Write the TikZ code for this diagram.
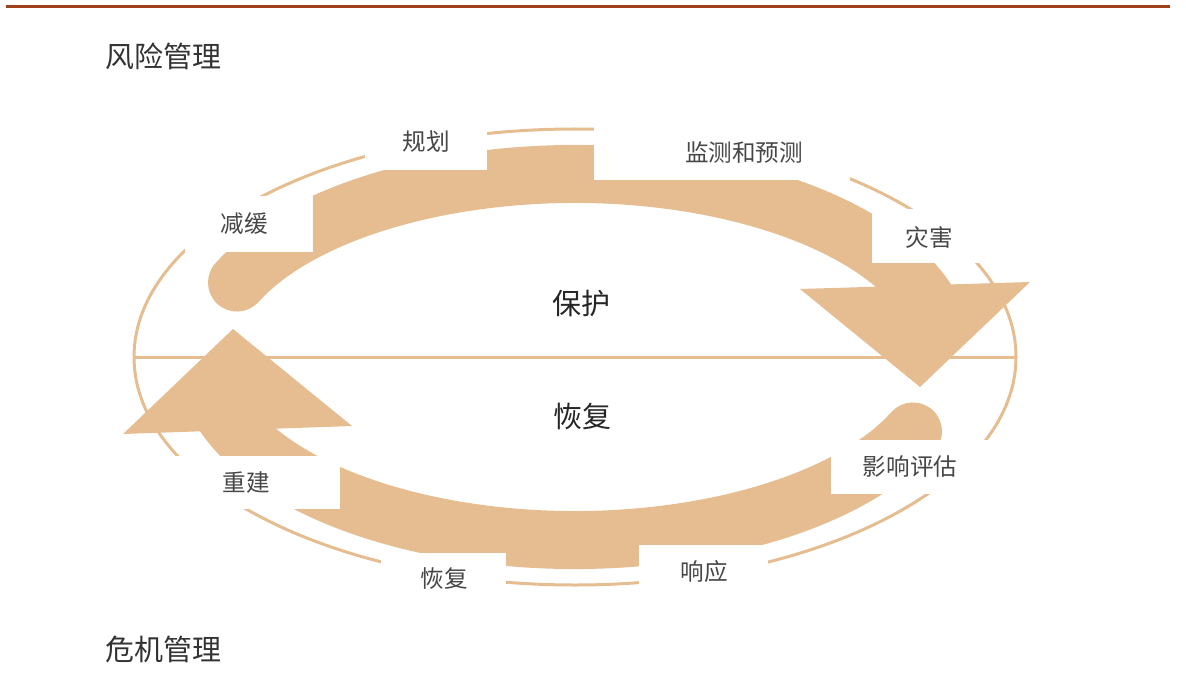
\documentclass[tikz,border=0pt]{standalone}
\usepackage{fontspec}
\newfontfamily\cjk{Noto Sans CJK SC}
\definecolor{sand}{RGB}{229,189,145}
\definecolor{rust}{RGB}{160,64,28}
\begin{document}
\begin{tikzpicture}[x=0.5pt,y=-0.5pt]

\tikzset{titel/.style={inner sep=0pt,anchor=west,text=black!80,font=\cjk\fontsize{14.5}{17}\selectfont},}
\tikzset{fase/.style={inner sep=0pt,text=black!72,font=\cjk\fontsize{11.8}{14}\selectfont},}
\tikzset{kern/.style={inner sep=0pt,text=black!85,font=\cjk\fontsize{14.5}{17}\selectfont},}
\tikzset{band/.style={draw=sand,line width=29pt,line cap=round},}
\tikzset{dun/.style={draw=sand,line width=1.5pt},}

\useasboundingbox (0,0) rectangle (1186,695);

%KOP
\draw[rust,line width=1.5pt] (6,7) -- (1170,7);
\node[titel] (risico) at (105,56) {风险管理};
\node[titel] (crisis) at (105,649) {危机管理};

%ELLIPS
\coordinate (m) at (575,357);
\draw[dun] (m) ellipse [x radius=441,y radius=228];
\draw[dun] (134,357) -- (1016,357);

%PIJLEN
\draw[band] (m) ++(204:370 and 183) arc[start angle=204,end angle=345,x radius=370,y radius=183];
\fill[sand] (800,289) -- (1030,282) -- (920,387) -- cycle;
\draw[band] (m) ++(24:370 and 183) arc[start angle=24,end angle=165,x radius=370,y radius=183];
\fill[sand] (352,426) -- (123,434) -- (233,329) -- cycle;

%VAKKEN
\fill[white] (185,196) rectangle (313,252);
\fill[white] (365,112) rectangle (487,170);
\fill[white] (594,120) rectangle (850,180);
\fill[white] (872,209) rectangle (980,263);
\fill[white] (831,440) rectangle (990,494);
\fill[white] (639,545) rectangle (768,602);
\fill[white] (381,553) rectangle (506,605);
\fill[white] (175,456) rectangle (340,509);

\node[fase] (beperk) at (244,224) {减缓};
\node[fase] (plan) at (426,142) {规划};
\node[fase] (monitor) at (744,153) {监测和预测};
\node[fase] (ramp) at (929,237) {灾害};
\node[fase] (impact) at (910,467) {影响评估};
\node[fase] (respons) at (704,572) {响应};
\node[fase] (herstel2) at (444,579) {恢复};
\node[fase] (bouw) at (246,483) {重建};

\node[kern] (bescherm) at (581,304) {保护};
\node[kern] (herstel) at (582,416) {恢复};

\end{tikzpicture}
\end{document}
